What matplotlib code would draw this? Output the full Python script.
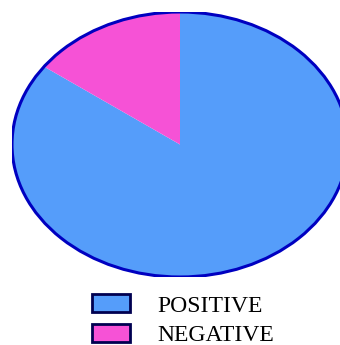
import matplotlib.pyplot as plt
from matplotlib.patches import Patch, Circle

labels = ['POSITIVE', 'NEGATIVE']
values = [85, 15]
colors = ['#559DFA', '#F652D6']

fig = plt.figure(figsize=(3.4, 3.45), dpi=100)
ax = fig.add_axes([12 / 340, 1 - 277 / 345, 336 / 340, 265 / 345])

ax.pie(values, colors=colors, startangle=90, counterclock=False,
       wedgeprops=dict(linewidth=0))
ax.add_patch(Circle((0, 0), 1, fill=False, edgecolor='#0000C0', linewidth=2.2))
ax.set_aspect('auto')
ax.set_xlim(-1, 1)
ax.set_ylim(-1, 1)
ax.axis('off')

handles = [Patch(facecolor=c, edgecolor='#000050', linewidth=2) for c in colors]
fig.legend(handles, labels, loc='center', bbox_to_anchor=(0.538, 0.072),
           frameon=False, prop={'family': 'Liberation Serif', 'size': 17},
           handlelength=1.6, handleheight=0.8, handletextpad=1.15,
           labelspacing=0.3, borderpad=0)

fig.savefig('out.png', dpi=100)
